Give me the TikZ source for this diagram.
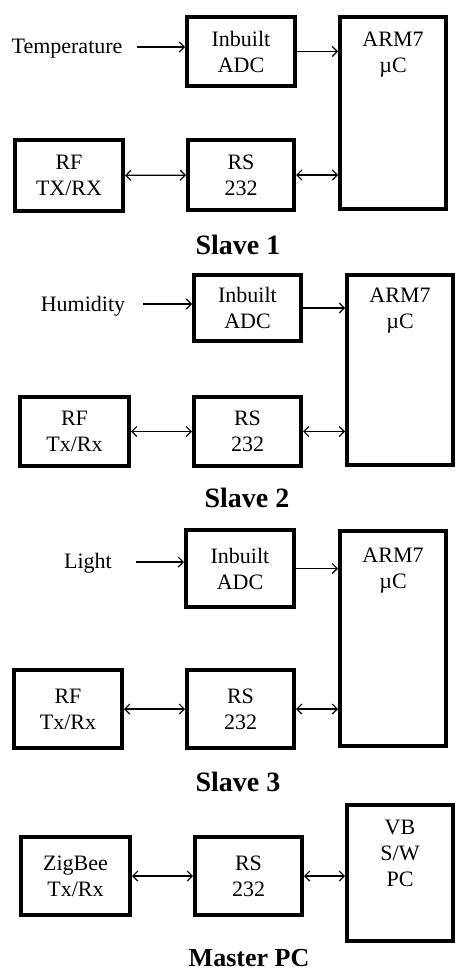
\documentclass[tikz,border=0pt]{standalone}
\usepackage{fontspec}
\setmainfont{Liberation Serif}
\usepackage{tikz}
\usetikzlibrary{positioning, arrows.meta}
\newcommand{\boxfont}{\fontsize{22}{26}\selectfont}
\newcommand{\slavefont}{\fontsize{28}{32}\selectfont\bfseries}
\newcommand{\masterfont}{\fontsize{26}{30}\selectfont\bfseries}
\tikzset{
  blk/.style={draw,line width=4pt,inner sep=0pt,align=center,
    anchor=north west,font=\boxfont},
  arr/.style={-{Straight Barb[length=5pt,width=10pt]},line width=1.2pt},
  both/.style={{Straight Barb[length=5pt,width=10pt]}-{Straight Barb[length=5pt,width=10pt]},
    line width=1.2pt},
  sig/.style={font=\boxfont,inner sep=0pt},
  ttl/.style={font=\slavefont,inner sep=0pt},
}

\begin{document}
\begin{tikzpicture}[x=1pt,y=-1pt]
  \useasboundingbox (0,0) rectangle (456,971);
  % slave 1
  \node[blk,minimum width=108pt,minimum height=69pt] (adc1) at (185,15) {Inbuilt\\ADC};
  \node[blk,minimum width=106pt,text height=56pt,text depth=136pt] (arm1) at (338,15) {ARM7\\µC};
  \node[blk,minimum width=108pt,minimum height=71pt] (rf1) at (13,138) {RF\\TX/RX};
  \node[blk,minimum width=106pt,minimum height=70pt] (rs1) at (186,138) {RS\\232};
  \node[sig] (temp) at (67,49) {Temperature};
  \coordinate (in1) at (137,47);
  \draw[arr] (in1) -- (in1 -| adc1.west);
  \draw[arr] (adc1.east) -- (adc1.east -| arm1.west);
  \draw[both] (rf1) -- (rs1);
  \draw[both] (rs1.east) -- (rs1.east -| arm1.west);
  \node[ttl] (slave1) at (238,245) {Slave 1};
  % slave 2
  \node[blk,minimum width=107pt,minimum height=66pt] (adc2) at (192,273) {Inbuilt\\ADC};
  \node[blk,minimum width=106pt,text height=53pt,text depth=137pt] (arm2) at (345,273) {ARM7\\µC};
  \node[blk,minimum width=109pt,minimum height=69pt] (rf2) at (18,395) {RF\\Tx/Rx};
  \node[blk,minimum width=107pt,minimum height=69pt] (rs2) at (192,395) {RS\\232};
  \node[sig] (hum) at (83,306) {Humidity};
  \coordinate (in2) at (143,304);
  \draw[arr] (in2) -- (in2 -| adc2.west);
  \draw[arr] (adc2.east) -- (adc2.east -| arm2.west);
  \draw[both] (rf2) -- (rs2);
  \draw[both] (rs2.east) -- (rs2.east -| arm2.west);
  \node[ttl] (slave2) at (247,498) {Slave 2};
  % slave 3
  \node[blk,minimum width=108pt,minimum height=77pt] (adc3) at (184,528) {Inbuilt\\ADC};
  \node[blk,minimum width=106pt,text height=57pt,text depth=158pt] (arm3) at (338,529) {ARM7\\µC};
  \node[blk,minimum width=108pt,minimum height=78pt] (rf3) at (12,668) {RF\\Tx/Rx};
  \node[blk,minimum width=107pt,minimum height=78pt] (rs3) at (185,668) {RS\\232};
  \node[sig] (light) at (88,563) {Light};
  \coordinate (in3) at (136,562);
  \draw[arr] (in3) -- (in3 -| adc3.west);
  \draw[arr] (adc3.east) -- (adc3.east -| arm3.west);
  \draw[both] (rf3) -- (rs3);
  \draw[both] (rs3.east) -- (rs3.east -| arm3.west);
  \node[ttl] (slave3) at (238,782) {Slave 3};
  % master
  \node[blk,minimum width=106pt,text height=81pt,text depth=55pt] (vb) at (345,803) {VB\\S/W\\PC};
  \node[blk,minimum width=109pt,minimum height=78pt] (zb) at (19,835) {ZigBee\\Tx/Rx};
  \node[blk,minimum width=107pt,minimum height=78pt] (rs4) at (193,835) {RS\\232};
  \draw[both] (zb) -- (rs4);
  \draw[both] (rs4.east) -- (rs4.east -| vb.west);
  \node[ttl,font=\masterfont] (master) at (249,958) {Master PC};
\end{tikzpicture}
\end{document}
